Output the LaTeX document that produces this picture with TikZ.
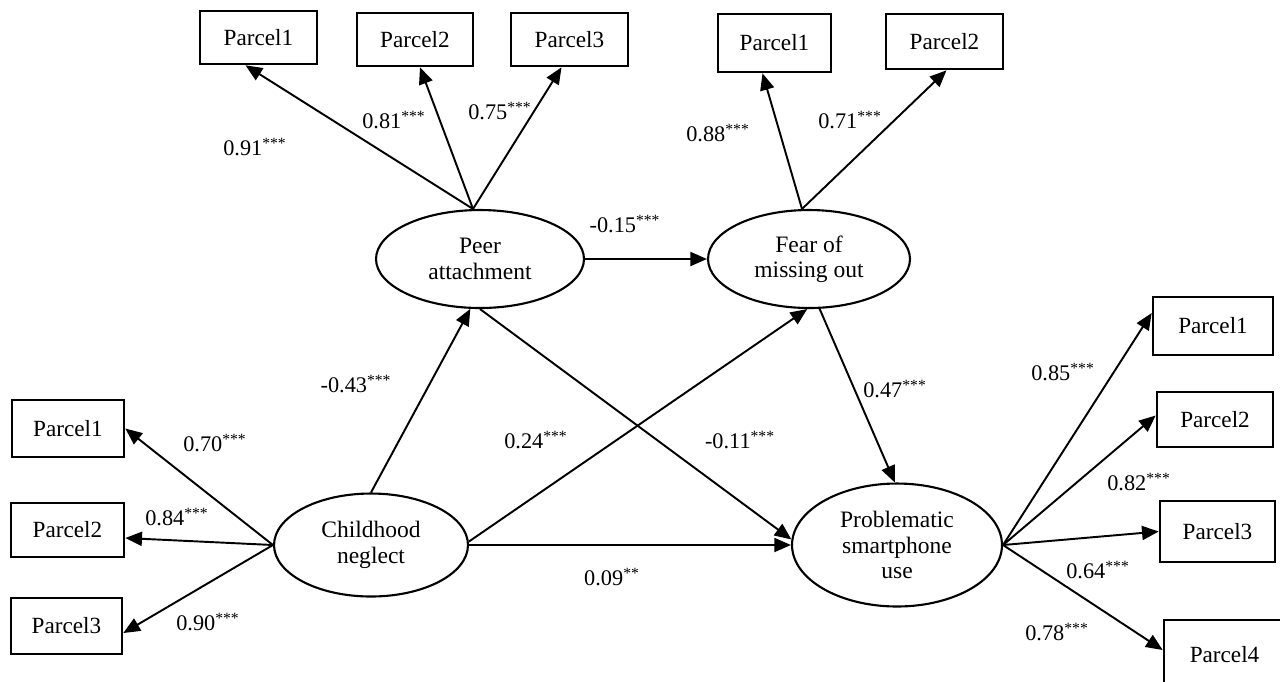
\documentclass[tikz,border=0pt]{standalone}
\usepackage{fontspec}
\setmainfont{Liberation Serif}
\usetikzlibrary{shapes.geometric,arrows.meta,calc}
\tikzset{
  box/.style={draw,line width=1.5pt,rectangle,inner sep=0pt,font=\fontsize{13.2}{15}\selectfont},
  lat/.style={draw,line width=1.2pt,ellipse,inner sep=0pt,align=center,font=\fontsize{13.4}{14.4}\selectfont},
  arr/.style={line width=1.1pt,-{Triangle[length=9.5pt,width=8pt]}},
  lab/.style={font=\fontsize{12.7}{15}\selectfont,inner sep=0pt}
}
\newcommand{\st}{\textsuperscript{***}}
\begin{document}
\begin{tikzpicture}[x=0.02cm,y=-0.02cm]
\useasboundingbox (0,0) rectangle (1280,681);
% latent variables
\node[lat,minimum width=4.16cm,minimum height=1.96cm] (pa) at (480,259) {Peer\\attachment};
\node[lat,minimum width=4.04cm,minimum height=1.96cm] (fomo) at (809,259) {Fear of\\missing out};
\node[lat,minimum width=3.88cm,minimum height=2.06cm] (cn) at (371,545) {Childhood\\neglect};
\node[lat,minimum width=4.2cm,minimum height=2.46cm] (psu) at (897,545) {Problematic\\smartphone\\use};
% indicators
\node[box,minimum width=2.34cm,minimum height=1.06cm] (pap1) at (258.5,37.5) {Parcel1};
\node[box,minimum width=2.32cm,minimum height=1.06cm] (pap2) at (415,39.5) {Parcel2};
\node[box,minimum width=2.34cm,minimum height=1.06cm] (pap3) at (569.5,39.5) {Parcel3};
\node[box,minimum width=2.26cm,minimum height=1.16cm] (fp1) at (774.5,43) {Parcel1};
\node[box,minimum width=2.34cm,minimum height=1.10cm] (fp2) at (944.5,41.5) {Parcel2};
\node[box,minimum width=2.24cm,minimum height=1.14cm] (lp1) at (68,428.5) {Parcel1};
\node[box,minimum width=2.26cm,minimum height=1.08cm] (lp2) at (67.5,530) {Parcel2};
\node[box,minimum width=2.22cm,minimum height=1.12cm] (lp3) at (66.5,626) {Parcel3};
\node[box,minimum width=2.40cm,minimum height=1.16cm] (rp1) at (1213,326) {Parcel1};
\node[box,minimum width=2.32cm,minimum height=1.10cm] (rp2) at (1215,419.5) {Parcel2};
\node[box,minimum width=2.30cm,minimum height=1.22cm] (rp3) at (1217.5,531.5) {Parcel3};
\node[box,minimum width=2.42cm,minimum height=1.40cm] (rp4) at (1224.5,655) {Parcel4};
% loadings
\coordinate (patop) at ($(pa.north)+(-7,0)$);
\coordinate (ftop) at ($(fomo.north)+(-7,0)$);
\draw[arr] (patop) -- ($(pap1.south)+(-13,0)$);
\draw[arr] (patop) -- ($(pap2.south)+(5,0)$);
\draw[arr] (patop) -- ($(pap3.south)+(-8,0)$);
\draw[arr] (ftop) -- ($(fp1.south)+(-12,0)$);
\draw[arr] (ftop) -- ($(fp2.south)+(2,0)$);
\draw[arr] (cn.west) -- (lp1.east);
\draw[arr] (cn.west) -- ($(lp2.east)+(0,8)$);
\draw[arr] (cn.west) -- ($(lp3.east)+(0,7)$);
\draw[arr] (psu.east) -- ($(rp1.west)+(0,-13)$);
\draw[arr] (psu.east) -- ($(rp2.west)+(0,-4)$);
\draw[arr] (psu.east) -- (rp3.west);
\draw[arr] (psu.east) -- ($(rp4.west)+(0,-5)$);
% structural paths
\draw[arr] (pa.east) -- (fomo.west);
\draw[arr] (cn.north) -- (pa.259);
\draw[arr] (cn.2) -- (fomo.268);
\draw[arr] (pa.south) -- (psu.177);
\draw[arr] (fomo.282) -- (psu.92);
\draw[arr] (cn.east) -- (psu.west);
% labels
\node[lab] (l1) at (255,147) {0.91\st};
\node[lab] (l2) at (394,120) {0.81\st};
\node[lab] (l3) at (500,111) {0.75\st};
\node[lab] (l4) at (718,133) {0.88\st};
\node[lab] (l5) at (850,120) {0.71\st};
\node[lab] (l6) at (625,224) {-0.15\st};
\node[lab] (l7) at (356,384) {-0.43\st};
\node[lab] (l8) at (536,440) {0.24\st};
\node[lab] (l9) at (740,440) {-0.11\st};
\node[lab] (l10) at (895,389) {0.47\st};
\node[lab] (l11) at (612,577) {0.09\textsuperscript{**}};
\node[lab] (l12) at (215,443) {0.70\st};
\node[lab] (l13) at (177,517) {0.84\st};
\node[lab] (l14) at (208,622) {0.90\st};
\node[lab] (l15) at (1063,372) {0.85\st};
\node[lab] (l16) at (1139,482) {0.82\st};
\node[lab] (l17) at (1098,570) {0.64\st};
\node[lab] (l18) at (1057,632) {0.78\st};
\end{tikzpicture}
\end{document}
